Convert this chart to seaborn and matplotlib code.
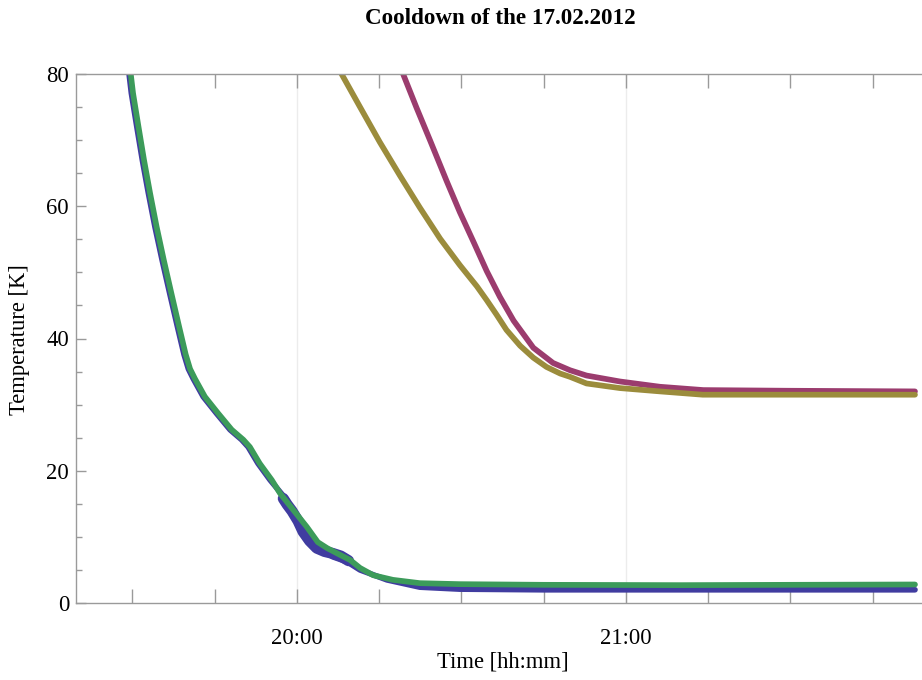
import pandas as pd
import numpy as np
import matplotlib
matplotlib.use("Agg")
import matplotlib.pyplot as plt
import matplotlib.dates as mdates
import seaborn as sb

# data: minutes relative to 20:00 and temperature in K
t_green = [-31.5, -30.3, -29.9, -28.9, -27.9, -26.8, -25.6, -24.3, -22.9, -21.5, -20.3, -19.5, -18.6,
           -16.8, -14.4, -11.9, -9.8, -8.6, -6.8, -4.6, -3.1, -0.7, 1.8, 3.8, 5.5, 7.8, 9.7,
           11.5, 13.9, 17.5, 22.4, 29.7, 45, 70, 90, 112.7]
T_green = [84.0, 79.9, 77.1, 72.0, 67.0, 62.0, 56.9, 51.9, 46.8, 41.8, 37.6, 35.4, 33.9,
           31.2, 28.7, 26.2, 24.7, 23.6, 21.1, 18.6, 16.6, 14.1, 11.5, 9.2, 8.3, 7.3, 6.5,
           5.3, 4.2, 3.5, 3.0, 2.85, 2.75, 2.7, 2.75, 2.8]
t_blue = [-31.8, -30.6, -30.2, -29.2, -28.2, -27.1, -25.9, -24.6, -23.2, -21.8, -20.6, -19.8, -18.9,
          -17.1, -14.7, -12.2, -10.1, -8.9, -7.1, -4.9, -2.6, -0.9, 1.1, 3.6, 6.5, 9.2,
          11.5, 16.4, 22.4, 29.7, 45, 70, 90, 112.7]
T_blue = [84.0, 79.9, 77.1, 72.0, 67.0, 62.0, 56.9, 51.9, 46.8, 41.8, 37.6, 35.4, 33.9,
          31.2, 28.7, 26.2, 24.7, 23.6, 21.1, 18.6, 16.3, 14.1, 11.0, 8.5, 7.0, 6.2,
          5.0, 3.5, 2.4, 2.1, 2.0, 2.0, 2.0, 2.0]
# noisy stretch of the blue sensor around 20:00
t_blue_noise = [-2.5, -1.8, -0.9, 0.2, 1.1, 2.3, 3.6, 5.0, 6.5, 8.0, 9.4]
T_blue_noise = [15.8, 14.9, 13.9, 12.4, 10.8, 9.4, 8.3, 7.8, 7.5, 7.1, 6.4]
t_olive = [6.5, 8.2, 11.5, 15.1, 18.8, 22.4, 26.1, 29.7, 32.8, 34.6, 36.4, 38.2, 40.7,
           43.1, 45.5, 48.0, 49.8, 52.8, 58.9, 66.2, 74.0, 90.0, 112.7]
T_olive = [82.5, 79.9, 75.0, 69.7, 64.6, 59.8, 55.1, 51.1, 47.9, 45.8, 43.6, 41.3, 38.9,
           37.1, 35.7, 34.7, 34.2, 33.2, 32.5, 32.0, 31.5, 31.5, 31.5]
t_magenta = [18.5, 19.4, 21.8, 24.3, 27.3, 29.7, 32.2, 34.6, 37.0, 39.5, 43.1, 46.7, 49.8,
             52.8, 58.9, 66.2, 74.1, 89.3, 112.7]
T_magenta = [82.0, 79.9, 74.9, 69.9, 63.8, 59.1, 54.6, 50.2, 46.3, 42.7, 38.6, 36.3, 35.2,
             34.4, 33.5, 32.7, 32.2, 32.1, 32.0]

t0 = pd.Timestamp("2012-02-17 20:00")

def frame(t, T):
    return pd.DataFrame({"time": t0 + pd.to_timedelta(t, unit="min"), "T": T})

# style
sb.set_theme(style="white")
plt.rcParams['font.family'] = ['Liberation Serif', 'DejaVu Serif']
plt.rcParams['text.color'] = 'black'
framecolor = "#9a9a9a"

fig = plt.figure(figsize=(9.22, 6.8), dpi=100)
ax = fig.add_axes([76/922, 77/680, 845/922, 529/680])

series = [
    (t_magenta, T_magenta, "#9b3c6e", 4.1),
    (t_olive, T_olive, "#9b8c3c", 4.1),
    (t_blue, T_blue, "#403ca0", 4.1),
    (t_blue_noise, T_blue_noise, "#403ca0", 8.0),
    (t_green, T_green, "#3c9b5a", 4.1),
]
for t, T, col, lw in series:
    sb.lineplot(data=frame(t, T), x="time", y="T", color=col, linewidth=lw,
                estimator=None, ax=ax, solid_capstyle="round", solid_joinstyle="round")

# axes limits and ticks
ax.set_xlim(t0 + pd.Timedelta(minutes=-40.3), t0 + pd.Timedelta(minutes=113.8))
ax.set_ylim(0, 80)
ax.xaxis.set_major_locator(mdates.HourLocator())
ax.xaxis.set_minor_locator(mdates.MinuteLocator(byminute=[15, 30, 45]))
ax.xaxis.set_major_formatter(mdates.DateFormatter("%H:%M"))
ax.set_yticks([0, 20, 40, 60, 80])
ax.set_yticks(np.arange(0, 81, 5), minor=True)
ax.tick_params(axis="x", which="both", direction="in", length=10, width=1, color=framecolor,
               top=True, bottom=True, labelsize=16.3, pad=18, labelcolor="black")
ax.tick_params(axis="y", which="major", direction="in", length=7, width=1, color=framecolor,
               left=True, labelsize=16.3, pad=5, labelcolor="black")
ax.tick_params(axis="y", which="minor", direction="in", length=4.5, width=1, color=framecolor,
               left=True)
ax.grid(False)
ax.grid(axis="x", which="major", color="#ececec", linewidth=1)

for b in ['top', 'bottom', 'left']:
    ax.spines[b].set_color(framecolor)
    ax.spines[b].set_linewidth(1)
ax.spines['right'].set_visible(False)

# labels and title
ax.set_xlabel("")
ax.set_ylabel("")
fig.text(503/922, 1 - 662/680, "Time [hh:mm]", ha="center", va="center", fontsize=16.3)
fig.text(20/922, 1 - 340/680, "Temperature [K]", ha="center", va="center", fontsize=16.3, rotation=90)
fig.text(500/922, 1 - 18/680, "Cooldown of the 17.02.2012", ha="center", va="center",
         fontsize=16.6, fontweight="bold")

plt.savefig("out.png", dpi=100)
